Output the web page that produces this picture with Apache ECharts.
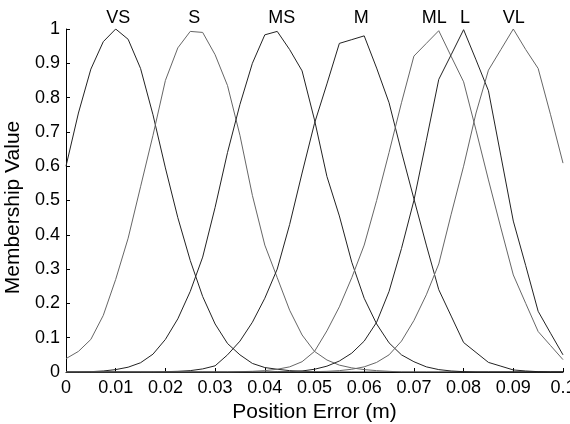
<!DOCTYPE html>
<html>
<head>
<meta charset="utf-8">
<title>Membership functions</title>
<script src="https://cdn.jsdelivr.net/npm/echarts@6/dist/echarts.min.js"></script>
<style>
    html, body { margin: 0; padding: 0; background: #fff; }
    #chart { width: 570px; height: 424px; }
</style>
</head>
<body>
<div id="chart"></div>
<script>
'use strict';

// position error grid (m)
var xs = [0, 0.0025, 0.005, 0.0075, 0.01, 0.0125, 0.015, 0.0175, 0.02, 0.0225,
    0.025, 0.0275, 0.03, 0.0325, 0.035, 0.0375, 0.04, 0.0425, 0.045, 0.0475,
    0.05, 0.0525, 0.055, 0.0575, 0.06, 0.0625, 0.065, 0.0675, 0.07, 0.0725,
    0.075, 0.0775, 0.08, 0.0825, 0.085, 0.0875, 0.09, 0.0925, 0.095, 0.0975, 0.1];

// membership values
var vs = [0.60, 0.755, 0.883, 0.963, 1.0, 0.97, 0.885, 0.75, 0.595, 0.45,
    0.325, 0.22, 0.14, 0.083, 0.05, 0.025, 0.013, 0.008, 0.004, 0.002,
    0.001, 0, 0, 0, 0, 0, 0, 0, 0, 0,
    0, 0, 0, 0, 0, 0, 0, 0, 0, 0, 0];
var s = [0.039, 0.06, 0.095, 0.165, 0.27, 0.39, 0.54, 0.69, 0.85, 0.945,
    0.993, 0.99, 0.925, 0.835, 0.69, 0.515, 0.37, 0.275, 0.18, 0.108,
    0.06, 0.035, 0.02, 0.012, 0.007, 0.004, 0.002, 0, 0, 0,
    0, 0, 0, 0, 0, 0, 0, 0, 0, 0, 0];
var ms = [0, 0, 0.001, 0.003, 0.007, 0.014, 0.027, 0.052, 0.095, 0.155,
    0.235, 0.335, 0.48, 0.64, 0.78, 0.90, 0.983, 0.993, 0.94, 0.878,
    0.735, 0.57, 0.455, 0.32, 0.215, 0.14, 0.085, 0.05, 0.03, 0.015,
    0.007, 0.003, 0.001, 0, 0, 0, 0, 0, 0, 0, 0];
var m = [0, 0, 0, 0, 0, 0, 0, 0, 0.001, 0.002,
    0.004, 0.009, 0.018, 0.05, 0.09, 0.145, 0.215, 0.30, 0.43, 0.58,
    0.725, 0.84, 0.958, 0.969, 0.98, 0.886, 0.785, 0.642, 0.505, 0.37,
    0.24, 0.163, 0.086, 0.057, 0.028, 0.017, 0.006, 0.003, 0.001, 0, 0];
var ml = [0, 0, 0, 0, 0, 0, 0, 0, 0, 0,
    0, 0, 0, 0, 0.001, 0.002, 0.004, 0.008, 0.015, 0.03,
    0.06, 0.12, 0.19, 0.275, 0.37, 0.50, 0.64, 0.785, 0.921, 0.958,
    0.995, 0.92, 0.846, 0.705, 0.56, 0.42, 0.283, 0.20, 0.118, 0.077, 0.036];
var l = [0, 0, 0, 0, 0, 0, 0, 0, 0, 0,
    0, 0, 0, 0, 0, 0, 0, 0.001, 0.001, 0.003,
    0.008, 0.017, 0.032, 0.055, 0.09, 0.145, 0.235, 0.36, 0.50, 0.675,
    0.853, 0.925, 0.998, 0.91, 0.82, 0.63, 0.44, 0.31, 0.177, 0.113, 0.05];
var vl = [0, 0, 0, 0, 0, 0, 0, 0, 0, 0,
    0, 0, 0, 0, 0, 0, 0, 0, 0, 0,
    0.001, 0.002, 0.004, 0.008, 0.015, 0.028, 0.05, 0.09, 0.15, 0.225,
    0.315, 0.46, 0.60, 0.755, 0.88, 0.94, 1.0, 0.94, 0.885, 0.75, 0.609];

var names = ['VS', 'S', 'MS', 'M', 'ML', 'L', 'VL'];
var values = [vs, s, ms, m, ml, l, vl];
// where each name sits along the x axis
var labelX = [0.0105, 0.0258, 0.0434, 0.0594, 0.0741, 0.0803, 0.0901];

var xTickLabels = ['0', '0.01', '0.02', '0.03', '0.04', '0.05', '0.06', '0.07', '0.08', '0.09', '0.1'];
var yTickLabels = ['0', '0.1', '0.2', '0.3', '0.4', '0.5', '0.6', '0.7', '0.8', '0.9', '1'];

var font = "'Liberation Sans', Arial, Helvetica, sans-serif";
var lineColors = ['#222', '#666', '#222', '#222', '#666', '#222', '#666'];

var myChart = echarts.init(document.getElementById('chart'), null, { renderer: 'canvas' });

var series = names.map(function (name, k) {
    return {
        name: name,
        type: 'line',
        showSymbol: false,
        symbol: 'none',
        smooth: false,
        silent: true,
        data: xs.map(function (x, i) { return [x, values[k][i]]; }),
        lineStyle: {
            width: 1,
            color: lineColors[k]
        },
        markPoint: {
            symbol: 'circle',
            symbolSize: 0,
            silent: true,
            label: {
                show: true,
                formatter: name,
                color: '#000',
                fontFamily: font,
                fontSize: 18,
                offset: [0, -11]
            },
            data: [{ coord: [labelX[k], 1] }]
        }
    };
});

var option = {
    animation: false,
    backgroundColor: '#fff',
    grid: {
        left: 66,
        right: 7,
        top: 29,
        bottom: 52,
        containLabel: false,
        outerBoundsMode: 'none'
    },
    xAxis: {
        type: 'value',
        min: 0,
        max: 0.1,
        interval: 0.01,
        name: 'Position Error (m)',
        nameLocation: 'middle',
        nameGap: 24,
        nameTextStyle: {
            color: '#000',
            fontFamily: font,
            fontSize: 21
        },
        axisLine: {
            lineStyle: { color: '#000', width: 1 }
        },
        axisTick: {
            inside: true,
            length: 4,
            lineStyle: { color: '#000' }
        },
        axisLabel: {
            margin: 7,
            color: '#000',
            fontFamily: font,
            fontSize: 18,
            formatter: function (v) { return xTickLabels[Math.round(v / 0.01)]; }
        },
        splitLine: { show: false }
    },
    yAxis: {
        type: 'value',
        min: 0,
        max: 1,
        interval: 0.1,
        name: 'Membership Value',
        nameLocation: 'middle',
        nameGap: 36,
        nameTextStyle: {
            color: '#000',
            fontFamily: font,
            fontSize: 21,
            padding: [0, 14, 0, 0]
        },
        axisLine: {
            show: true,
            lineStyle: { color: '#000', width: 1 }
        },
        axisTick: {
            show: true,
            inside: true,
            length: 4,
            lineStyle: { color: '#000' }
        },
        axisLabel: {
            margin: 6,
            color: '#000',
            fontFamily: font,
            fontSize: 18,
            formatter: function (v) { return yTickLabels[Math.round(v / 0.1)]; }
        },
        splitLine: { show: false }
    },
    series: series
};

myChart.setOption(option);
</script>
</body>
</html>
